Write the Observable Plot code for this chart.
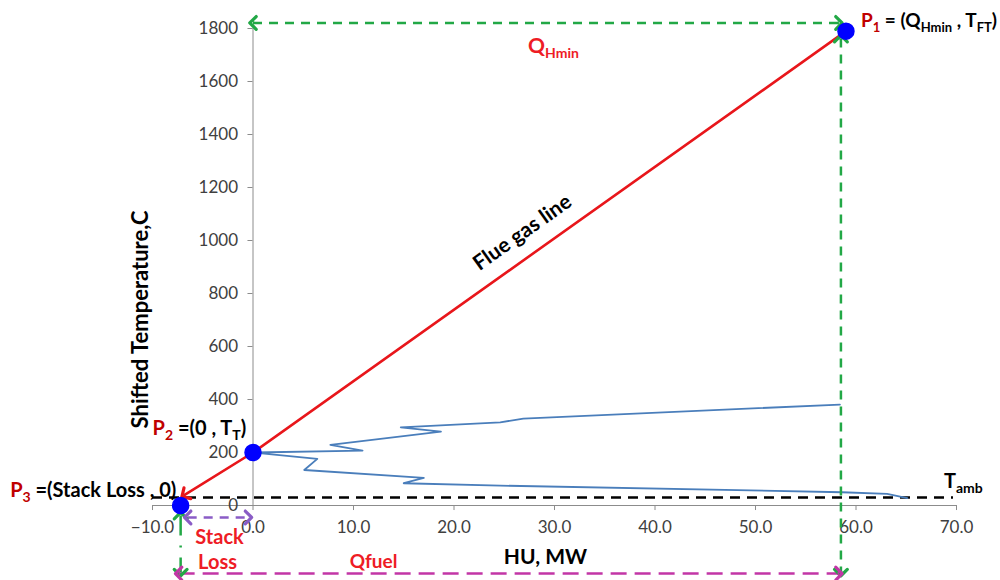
<!DOCTYPE html>
<html><head><meta charset="utf-8">
<script src="https://cdn.jsdelivr.net/npm/d3@7"></script>
<script src="https://cdn.jsdelivr.net/npm/@observablehq/plot@0.6"></script>
<style>
body{margin:0;background:#fff;}
#chart{position:absolute;left:0;top:0;}
</style></head><body><div id="chart"></div>
<script>
// ---- data ----
const xTicks = [-10, 0, 10, 20, 30, 40, 50, 60, 70];
const yTicks = [0, 200, 400, 600, 800, 1000, 1200, 1400, 1600, 1800];

// grand composite curve (HU, MW vs shifted temperature, C)
const gccHU = [58.4, 26.9, 24.6, 14.7, 18.7, 7.7, 10.9, 0, 6.4, 5.1, 17.0, 15.0, 24.6, 49.5, 58.6, 63.1, 65.1];
const gccT  = [381, 328, 314, 295, 279, 229, 207, 200, 176, 134, 104, 84, 75, 57, 50, 44, 28];

// flue gas line: P1 -> P2 -> towards P3
const flueHU = [59, 0, -6.8];
const flueT  = [1790, 200, 40];

// key points
const pointNames = ["P1", "P2", "P3"];
const pointHU = [59, 0, -7.2];
const pointT  = [1790, 200, 0];

const Tamb = 30;
const TambRange = [-10, 69.7];

// double-headed dashed arrows
const arrowNames = ["QHmin", "QHminDown", "StackDown", "StackLoss", "Qfuel"];
const arrowX1 = [0, 58.5, -7.2, -6.5, -7.4];
const arrowY1 = [1821, 1762, -38, -45, -257];
const arrowX2 = [58.3, 58.5, -7.2, -0.45, 58.3];
const arrowY2 = [1821, -253, -253, -45, -257];
const arrowColor = ["#22a846", "#22a846", "#22a846", "#8a5cc6", "#c236a6"];
const arrowDash = ["9,7", "9,7", "20,10,2,10", "9,7", "16,8"];

// ---- build ----
const font = "Lato, 'Open Sans', sans-serif";
const gcc = gccHU.map((x, i) => ({x, y: gccT[i]}));
const flue = flueHU.map((x, i) => ({x, y: flueT[i]}));
const pts = pointNames.map((n, i) => ({n, x: pointHU[i], y: pointT[i]}));
const arrows = arrowNames.map((n, i) => ({n, x1: arrowX1[i], y1: arrowY1[i], x2: arrowX2[i], y2: arrowY2[i], c: arrowColor[i], d: arrowDash[i]}));
const eps = 0.002;
const heads = [];
arrows.forEach(a => {
  heads.push({c: a.c, x1: a.x2 - (a.x2 - a.x1) * eps, y1: a.y2 - (a.y2 - a.y1) * eps, x2: a.x2, y2: a.y2});
  heads.push({c: a.c, x1: a.x1 + (a.x2 - a.x1) * eps, y1: a.y1 + (a.y2 - a.y1) * eps, x2: a.x1, y2: a.y1});
});
const nF = flue.length;
const redHead = [{x1: flue[nF-1].x - (flue[nF-1].x - flue[nF-2].x) * eps, y1: flue[nF-1].y - (flue[nF-1].y - flue[nF-2].y) * eps, x2: flue[nF-1].x, y2: flue[nF-1].y}];

const axisGray = "#8c8c8c";
const tickText = "#404040";

const dashMarks = arrows.map(a => Plot.link([a], {x1: "x1", y1: "y1", x2: "x2", y2: "y2", stroke: a.c, strokeWidth: 2.5, strokeDasharray: a.d}));
const headMarks = arrowColor.filter((c, i, arr) => arr.indexOf(c) === i).map(c =>
  Plot.link(heads.filter(h => h.c === c), {x1: "x1", y1: "y1", x2: "x2", y2: "y2", stroke: c, strokeWidth: 3.2, markerEnd: "arrow"}));

const plot = Plot.plot({
  width: 1000, height: 580,
  marginLeft: 152, marginRight: 44, marginTop: 28, marginBottom: 75,
  x: {domain: [-10, 70], axis: null},
  y: {domain: [0, 1800], axis: null},
  style: {fontFamily: font, background: "white", overflow: "visible"},
  marks: [
    Plot.ruleY([0], {stroke: axisGray, strokeWidth: 1}),
    Plot.ruleX([0], {y1: 0, y2: 1800, stroke: axisGray, strokeWidth: 1}),
    Plot.ruleX(xTicks, {x: d => d, y1: 0, y2: -19, stroke: axisGray}),
    Plot.ruleY(yTicks, {y: d => d, x1: -0.5, x2: 0, stroke: axisGray}),
    Plot.text(xTicks, {x: d => d, y: 0, dy: 22, text: d => d3.format(".1f")(d), fontSize: 17, fill: tickText}),
    Plot.text(yTicks, {x: 0, y: d => d, dx: -15, textAnchor: "end", text: d => String(d), fontSize: 17, fill: tickText}),
    Plot.ruleY([Tamb], {x1: TambRange[0], x2: TambRange[1], stroke: "black", strokeWidth: 2.5, strokeDasharray: "10,7"}),
    Plot.line(gcc, {x: "x", y: "y", stroke: "#4a7ebb", strokeWidth: 1.8}),
    Plot.line(flue, {x: "x", y: "y", stroke: "#e8161b", strokeWidth: 2.6}),
    Plot.link(redHead, {x1: "x1", y1: "y1", x2: "x2", y2: "y2", stroke: "#e8161b", strokeWidth: 3.2, markerEnd: "arrow"}),
    ...dashMarks,
    ...headMarks,
    Plot.dot(pts, {x: "x", y: "y", r: 8, fill: "#0000ff", stroke: "#0000ff"}),
    Plot.text(["Flue gas line"], {x: 26.8, y: 1030, rotate: -35.4, fontSize: 21, fontWeight: "bold", fill: "black"}),
    Plot.text(["Shifted Temperature,C"], {x: -11.19, y: 702, rotate: -90, fontSize: 22, fontWeight: "bold", fill: "black"}),
    Plot.text(["Stack"], {x: -3.33, y: -121, fontSize: 20, fontWeight: "bold", fill: "#ee1c25"}),
    Plot.text(["Loss"], {x: -3.53, y: -215, fontSize: 20, fontWeight: "bold", fill: "#ee1c25"}),
    Plot.text(["Qfuel"], {x: 12.0, y: -211, fontSize: 19, fontWeight: "bold", fill: "#ee1c25"}),
    Plot.text(["HU, MW"], {x: 29.1, y: -196, fontSize: 21, fontWeight: "bold", fill: "black"})
  ]
});
document.getElementById("chart").appendChild(plot);

// rich labels with subscripts
const sx = plot.scale("x"), sy = plot.scale("y");
const svg = d3.select(plot);
function rich(xv, yv, dx, dy, parts, anchor, size) {
  const fs = size || 20, ss = Math.round(fs * 0.68), sh = Math.round(fs * 0.25);
  const t = svg.append("text")
    .attr("x", sx.apply(xv) + dx).attr("y", sy.apply(yv) + dy)
    .attr("font-family", font).attr("font-weight", "bold").attr("font-size", fs)
    .attr("text-anchor", anchor || "start");
  let shifted = false;
  parts.forEach(([s, color, sub]) => {
    const ts = t.append("tspan").text(s).attr("fill", color);
    if (sub && !shifted) { ts.attr("dy", sh).attr("font-size", ss); shifted = true; }
    else if (sub) { ts.attr("font-size", ss); }
    else if (!sub && shifted) { ts.attr("dy", -sh); shifted = false; }
  });
}
const dr = "#c00000", bk = "#000000", rd = "#ee1c25";
rich(pointHU[0], pointT[0], 15.5, -4, [["P", dr], ["1", dr, true], [" = (Q", bk], ["Hmin", bk, true], [" , T", bk], ["FT", bk, true], [")", bk]], "start", 19);
rich(pointHU[1], pointT[1], -100, -17, [["P", dr], ["2", dr, true], [" =(0 , T", bk], ["T", bk, true], [")", bk]], "start", 20);
rich(pointHU[2], pointT[2], -170, -8, [["P", dr], ["3", dr, true], [" =(Stack Loss , 0)", bk]], "start", 20);
rich((arrowX1[0] + arrowX2[0]) / 2, arrowY1[0], 8, 31, [["Q", rd], ["Hmin", rd, true]], "middle", 21);
rich(xTicks[xTicks.length - 1], Tamb, -12, -9, [["T", bk], ["amb", bk, true]], "start", 20);
</script></body></html>
